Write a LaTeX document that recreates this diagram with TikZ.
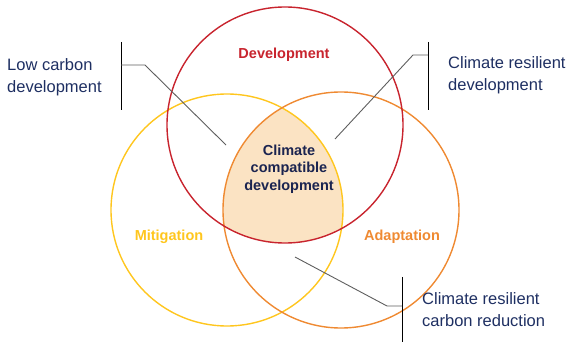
\documentclass[tikz,border=0pt]{standalone}
\usepackage{fontspec}
\setmainfont{Liberation Sans}
\begin{document}
\definecolor{devred}{HTML}{C8242E}
\definecolor{mityellow}{HTML}{FFC61E}
\definecolor{adaorange}{HTML}{EF8A32}
\definecolor{peach}{HTML}{FBE3C3}
\definecolor{navy}{HTML}{1E2F62}
\definecolor{darknavy}{HTML}{1B2450}
\definecolor{leader}{HTML}{5E5E5E}
\begin{tikzpicture}[x=1pt,y=-1pt,
  ring/.style={circle,inner sep=0pt,line width=1.4pt},
  setlabel/.style={font=\fontsize{14.5}{17}\selectfont\bfseries},
  outerlabel/.style={align=left,anchor=west,inner sep=0pt,text=navy,
    font=\fontsize{16.5}{22}\selectfont},
  bracket/.style={draw=black,line width=0.9pt},
  leaderline/.style={draw=leader,line width=0.9pt}]
\useasboundingbox (0,0) rectangle (571,342);

% centres of the three sets
\coordinate (cdev) at (285,125);
\coordinate (cmit) at (227,210);
\coordinate (cada) at (341,210);

% shared region of all three sets
\begin{scope}
  \clip (cdev) circle (118);
  \clip (cmit) circle (116);
  \fill[peach] (cada) circle (118);
\end{scope}

% the three sets
\node[ring,draw=mityellow,minimum size=232pt] (mit) at (cmit) {};
\node[ring,draw=adaorange,minimum size=236pt] (ada) at (cada) {};
\node[ring,draw=devred,minimum size=236pt] (dev) at (cdev) {};

% set names
\node[setlabel,text=devred] (devlabel) at (284,55) {Development};
\node[setlabel,text=mityellow] (mitlabel) at (169,237) {Mitigation};
\node[setlabel,text=adaorange] (adalabel) at (402,237) {Adaptation};
\node[align=center,text=darknavy,font=\fontsize{14.5}{17.5}\selectfont\bfseries]
  (core) at (289,169) {Climate\\compatible\\development};

% outer labels
\node[outerlabel] (lowc) at (7,77) {Low carbon\\development};
\node[outerlabel] (resdev) at (448,75) {Climate resilient\\development};
\node[outerlabel] (rescarb) at (422,310) {Climate resilient\\carbon reduction};

% brackets beside the outer labels
\coordinate (b1t) at (121,42);  \coordinate (b1b) at (121,110);
\coordinate (b2t) at (428,42);  \coordinate (b2b) at (428,110);
\coordinate (b3t) at (402,277); \coordinate (b3b) at (402,342);
\draw[bracket] (b1t) -- (b1b);
\draw[bracket] (b2t) -- (b2b);
\draw[bracket] (b3t) -- (b3b);

% leader lines into the diagram
\coordinate (l1s) at (121,65);  \coordinate (l1k) at (145,65);  \coordinate (l1e) at (226,145);
\coordinate (l2s) at (428,55);  \coordinate (l2k) at (413,55);  \coordinate (l2e) at (335,139);
\coordinate (l3s) at (402,306); \coordinate (l3k) at (387,306); \coordinate (l3e) at (295,257);
\draw[leaderline] (l1s) -- (l1k) -- (l1e);
\draw[leaderline] (l2s) -- (l2k) -- (l2e);
\draw[leaderline] (l3s) -- (l3k) -- (l3e);
\end{tikzpicture}
\end{document}
